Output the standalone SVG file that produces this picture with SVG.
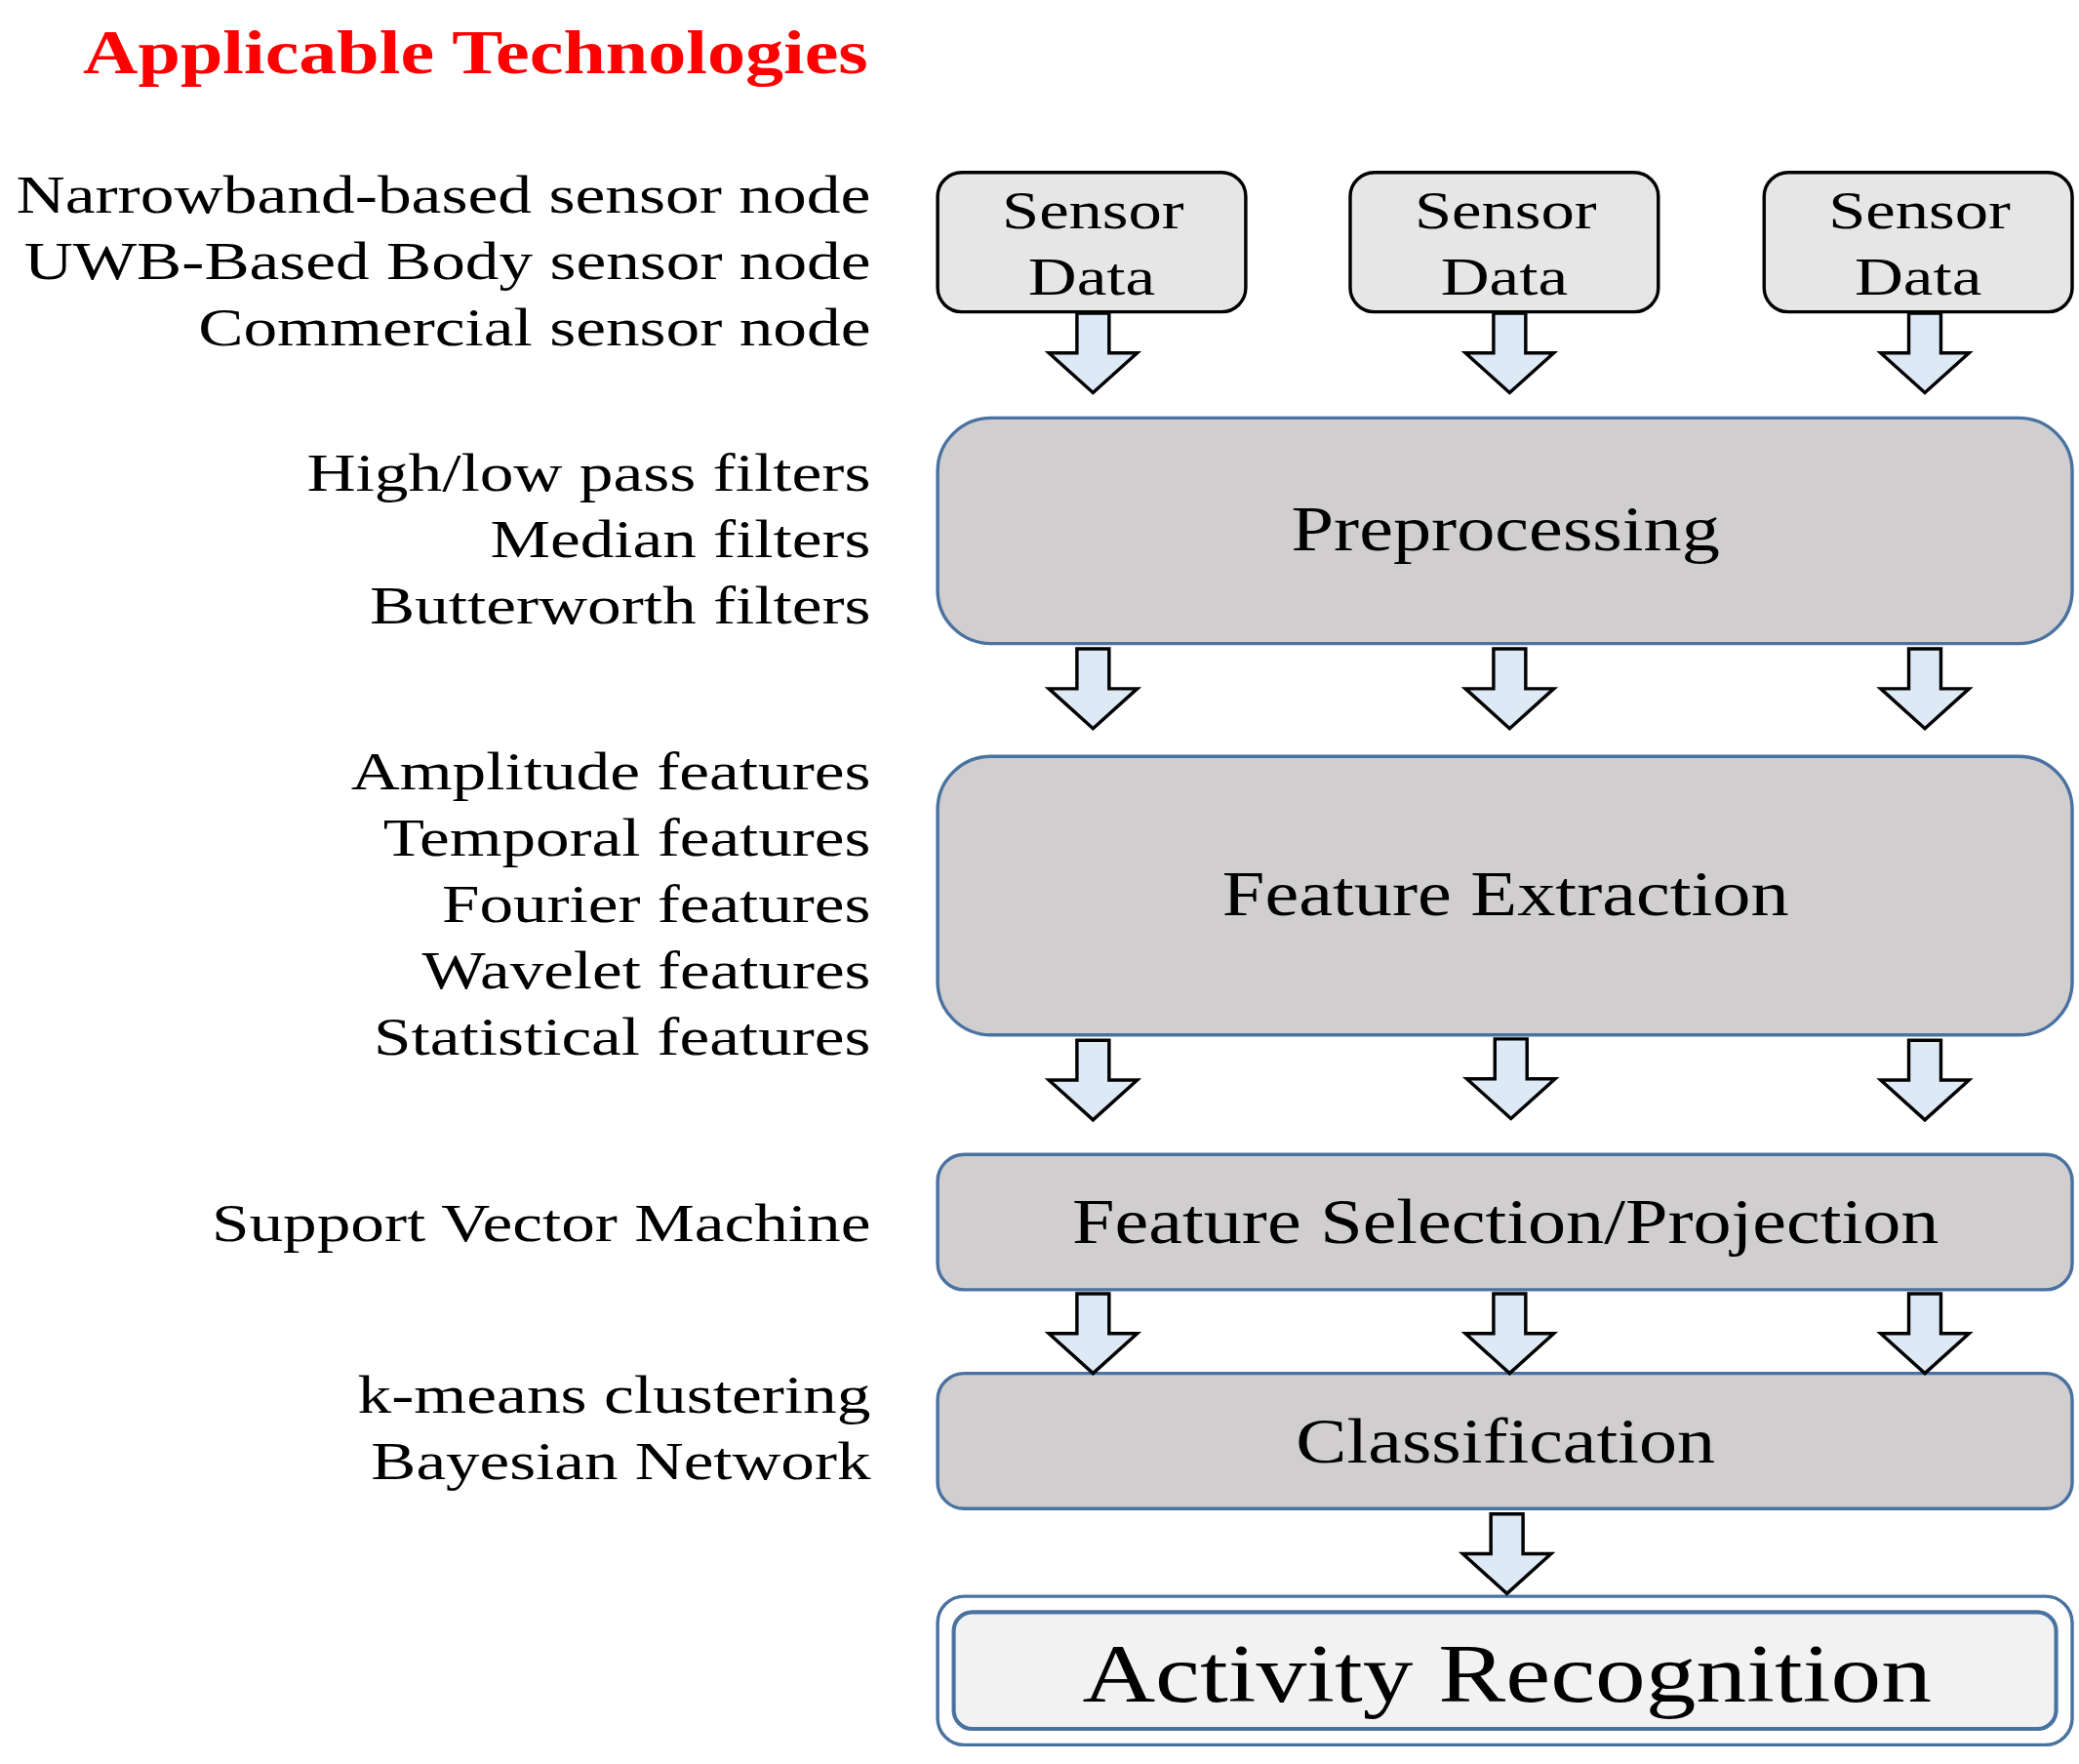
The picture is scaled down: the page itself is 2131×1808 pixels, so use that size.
<svg xmlns="http://www.w3.org/2000/svg" width="2131" height="1808" viewBox="0 0 2131 1808">
<style>
text{font-family:"Liberation Serif","Times New Roman",serif;fill:#000}
.l{font-size:40px;text-anchor:end}
.b{font-size:48px;text-anchor:middle}
.sd{fill:#e6e6e6;stroke:#000;stroke-width:2.5}
.pb{fill:#d0cecf;stroke:#4a72a0;stroke-width:2.5}
.ar{fill:#dde9f5;stroke:#000;stroke-width:2.5;stroke-linejoin:miter}
</style>
<defs>
<path id="a" class="ar" d="M-12,0 H12 V30 H33 L0,60 L-33,30 H-12 Z"/>
</defs>
<rect width="2131" height="1808" fill="#fff"/>
<g transform="scale(1.373 1.36)">
<g id="labels">
<text x="355" y="55" style="font-size:46px;font-weight:bold;fill:#f00;text-anchor:middle" textLength="586" lengthAdjust="spacingAndGlyphs">Applicable Technologies</text>
<text class="l" x="650" y="160" textLength="638" lengthAdjust="spacingAndGlyphs">Narrowband-based sensor node</text>
<text class="l" x="650" y="210" textLength="632" lengthAdjust="spacingAndGlyphs">UWB-Based Body sensor node</text>
<text class="l" x="650" y="260" textLength="502" lengthAdjust="spacingAndGlyphs">Commercial sensor node</text>
<text class="l" x="650" y="370" textLength="421" lengthAdjust="spacingAndGlyphs">High/low pass filters</text>
<text class="l" x="650" y="420" textLength="284" lengthAdjust="spacingAndGlyphs">Median filters</text>
<text class="l" x="650" y="470" textLength="374" lengthAdjust="spacingAndGlyphs">Butterworth filters</text>
<text class="l" x="650" y="595" textLength="388" lengthAdjust="spacingAndGlyphs">Amplitude features</text>
<text class="l" x="650" y="645" textLength="364" lengthAdjust="spacingAndGlyphs">Temporal features</text>
<text class="l" x="650" y="695" textLength="320" lengthAdjust="spacingAndGlyphs">Fourier features</text>
<text class="l" x="650" y="745" textLength="335" lengthAdjust="spacingAndGlyphs">Wavelet features</text>
<text class="l" x="650" y="795" textLength="371" lengthAdjust="spacingAndGlyphs">Statistical features</text>
<text class="l" x="650" y="935" textLength="492" lengthAdjust="spacingAndGlyphs">Support Vector Machine</text>
<text class="l" x="650" y="1065" textLength="383" lengthAdjust="spacingAndGlyphs">k-means clustering</text>
<text class="l" x="650" y="1115" textLength="373" lengthAdjust="spacingAndGlyphs">Bayesian Network</text>
</g>
<g id="sensor1"><rect class="sd" x="700" y="130" width="230" height="105" rx="18"/>
<text class="b" x="816" y="172" style="font-size:40px" textLength="136" lengthAdjust="spacingAndGlyphs">Sensor</text>
<text class="b" x="815" y="222" style="font-size:40px" textLength="95" lengthAdjust="spacingAndGlyphs">Data</text></g>
<g id="sensor2"><rect class="sd" x="1008" y="130" width="230" height="105" rx="18"/>
<text class="b" x="1124" y="172" style="font-size:40px" textLength="136" lengthAdjust="spacingAndGlyphs">Sensor</text>
<text class="b" x="1123" y="222" style="font-size:40px" textLength="95" lengthAdjust="spacingAndGlyphs">Data</text></g>
<g id="sensor3"><rect class="sd" x="1317" y="130" width="230" height="105" rx="18"/>
<text class="b" x="1433" y="172" style="font-size:40px" textLength="136" lengthAdjust="spacingAndGlyphs">Sensor</text>
<text class="b" x="1432" y="222" style="font-size:40px" textLength="95" lengthAdjust="spacingAndGlyphs">Data</text></g>
<g id="preprocessing"><rect class="pb" x="700" y="315" width="847" height="170" rx="40"/>
<text class="b" x="1124" y="415" textLength="320" lengthAdjust="spacingAndGlyphs">Preprocessing</text></g>
<g id="feature-extraction"><rect class="pb" x="700" y="570" width="847" height="210" rx="40"/>
<text class="b" x="1124" y="690" textLength="423" lengthAdjust="spacingAndGlyphs">Feature Extraction</text></g>
<g id="feature-selection"><rect class="pb" x="700" y="870" width="847" height="102" rx="20"/>
<text class="b" x="1124" y="937" textLength="647" lengthAdjust="spacingAndGlyphs">Feature Selection/Projection</text></g>
<g id="classification"><rect class="pb" x="700" y="1035" width="847" height="102" rx="20"/>
<text class="b" x="1124" y="1102" textLength="313" lengthAdjust="spacingAndGlyphs">Classification</text></g>
<g id="activity-recognition"><rect x="700" y="1203" width="847" height="112" rx="20" fill="#fff" stroke="#4a72a0" stroke-width="2.5"/>
<rect x="712" y="1215" width="823" height="88" rx="14" fill="#f2f2f2" stroke="#4a72a0" stroke-width="3"/>
<text class="b" x="1125" y="1282" style="font-size:62px" textLength="634" lengthAdjust="spacingAndGlyphs">Activity Recognition</text></g>
<g id="connectors">
<use href="#a" x="816" y="236"/><use href="#a" x="1127" y="236"/><use href="#a" x="1437" y="236"/>
<use href="#a" x="816" y="489"/><use href="#a" x="1127" y="489"/><use href="#a" x="1437" y="489"/>
<use href="#a" x="816" y="784"/><use href="#a" x="1128" y="783"/><use href="#a" x="1437" y="784"/>
<use href="#a" x="816" y="975"/><use href="#a" x="1127" y="975"/><use href="#a" x="1437" y="975"/>
<use href="#a" x="1125" y="1141"/>
</g>
</g>
</svg>
